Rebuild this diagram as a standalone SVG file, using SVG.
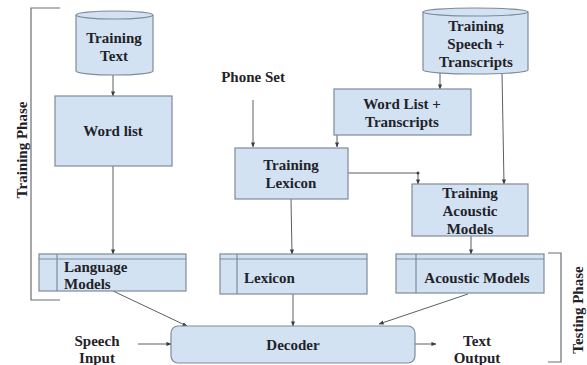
<svg xmlns="http://www.w3.org/2000/svg" width="587" height="365" viewBox="0 0 587 365">
<style>
.box{fill:#d3e2f2;stroke:#7d8b99;stroke-width:1.2}
.t{font-family:"Liberation Serif","Times New Roman",serif;font-weight:bold;font-size:15px;fill:#1f2329}
.c{text-anchor:middle}
.ln{fill:none;stroke:#5a5f66;stroke-width:1}
.br{fill:none;stroke:#6a6e74;stroke-width:1.2}
</style>
<defs>
<marker id="ah" viewBox="0 0 6 6" refX="5.5" refY="3" markerWidth="5" markerHeight="5" orient="auto" markerUnits="userSpaceOnUse">
<path d="M0,0.5 L6,3 L0,5.5 z" fill="#3a3e44"/>
</marker>
</defs>
<rect width="587" height="365" fill="#ffffff"/>

<g id="training-phase">
<path class="br" d="M60,8 H31 V300 H60"/>
<text class="t c" transform="translate(27,150) rotate(-90)">Training  Phase</text>
</g>
<g id="testing-phase">
<path class="br" d="M548,253 H561 V362 H548"/>
<text class="t c" transform="translate(583,310) rotate(-90)">Testing  Phase</text>
</g>

<g id="connectors">
<line class="ln" x1="113" y1="74" x2="113" y2="96" marker-end="url(#ah)"/>
<line class="ln" x1="113" y1="166" x2="113" y2="254" marker-end="url(#ah)"/>
<line class="ln" x1="253" y1="100" x2="253" y2="147" marker-end="url(#ah)"/>
<line class="ln" x1="440" y1="73" x2="440" y2="89" marker-end="url(#ah)"/>
<line class="ln" x1="337" y1="135" x2="337" y2="147" marker-end="url(#ah)"/>
<line class="ln" x1="502" y1="73" x2="504" y2="184" marker-end="url(#ah)"/>
<polyline class="ln" points="348,173 418,173 418,184" marker-end="url(#ah)"/>
<circle cx="418" cy="173" r="1.5" fill="#3a3e44"/>
<line class="ln" x1="291" y1="199" x2="292" y2="254" marker-end="url(#ah)"/>
<line class="ln" x1="471" y1="236" x2="471" y2="254" marker-end="url(#ah)"/>
<line class="ln" x1="113" y1="291" x2="187" y2="326" marker-end="url(#ah)"/>
<line class="ln" x1="293" y1="294" x2="293" y2="326" marker-end="url(#ah)"/>
<line class="ln" x1="468" y1="294" x2="379" y2="324" marker-end="url(#ah)"/>
<line class="ln" x1="138" y1="344" x2="171" y2="344" marker-end="url(#ah)"/>
<line class="ln" x1="415" y1="344" x2="436" y2="344" marker-end="url(#ah)"/>
</g>

<g id="training-text">
<path class="box" d="M76,15 A38.5,4 0 0,1 153,15 V71 A38.5,4 0 0,1 76,71 Z"/>
<path class="box" d="M76,15 A38.5,4 0 0,0 153,15" fill="none"/>
<text class="t c" x="114" y="43">Training</text>
<text class="t c" x="114" y="61">Text</text>
</g>

<g id="word-list">
<rect class="box" x="55" y="96" width="117" height="70"/>
<text class="t c" x="113" y="136">Word list</text>
</g>

<g id="phone-set">
<text class="t c" x="253" y="82">Phone Set</text>
</g>

<g id="training-speech">
<path class="box" d="M423,12 A52.5,4 0 0,1 528,12 V70 A52.5,4 0 0,1 423,70 Z"/>
<path class="box" d="M423,12 A52.5,4 0 0,0 528,12" fill="none"/>
<text class="t c" x="476" y="31">Training</text>
<text class="t c" x="476" y="49">Speech +</text>
<text class="t c" x="476" y="67">Transcripts</text>
</g>

<g id="word-list-transcripts">
<rect class="box" x="334" y="89" width="137" height="46"/>
<text class="t c" x="402" y="109">Word List +</text>
<text class="t c" x="402" y="127">Transcripts</text>
</g>

<g id="training-lexicon">
<rect class="box" x="235" y="148" width="113" height="51"/>
<text class="t c" x="291" y="170">Training</text>
<text class="t c" x="291" y="188">Lexicon</text>
</g>

<g id="training-acoustic">
<rect class="box" x="412" y="184" width="116" height="52"/>
<text class="t c" x="470" y="198">Training</text>
<text class="t c" x="470" y="216">Acoustic</text>
<text class="t c" x="470" y="234">Models</text>
</g>

<g id="language-models">
<rect class="box" x="39" y="254" width="147" height="37"/>
<line class="box" x1="39" y1="259" x2="186" y2="259"/>
<line class="box" x1="57" y1="254" x2="57" y2="291"/>
<text class="t" x="64" y="272">Language</text>
<text class="t" x="64" y="289">Models</text>
</g>

<g id="lexicon">
<rect class="box" x="220" y="254" width="147" height="40"/>
<line class="box" x1="220" y1="259" x2="367" y2="259"/>
<line class="box" x1="237" y1="254" x2="237" y2="294"/>
<text class="t" x="244" y="283">Lexicon</text>
</g>

<g id="acoustic-models">
<rect class="box" x="396" y="254" width="148" height="39"/>
<line class="box" x1="396" y1="259" x2="544" y2="259"/>
<line class="box" x1="416" y1="254" x2="416" y2="293"/>
<text class="t c" x="477" y="283">Acoustic Models</text>
</g>

<g id="decoder">
<rect class="box" x="171" y="326" width="244" height="37" rx="7"/>
<text class="t c" x="293" y="350">Decoder</text>
</g>

<g id="speech-input">
<text class="t c" x="97" y="346">Speech</text>
<text class="t c" x="97" y="363">Input</text>
</g>

<g id="text-output">
<text class="t c" x="477" y="346">Text</text>
<text class="t c" x="477" y="363">Output</text>
</g>
</svg>
